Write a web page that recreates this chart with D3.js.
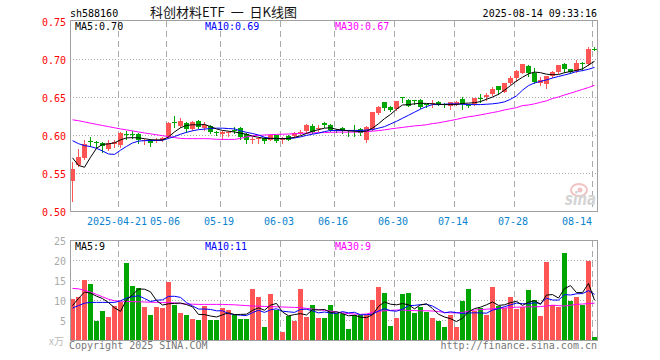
<!DOCTYPE html>
<html><head><meta charset="utf-8">
<script src="https://cdn.jsdelivr.net/npm/d3@7"></script>
<style>html,body{margin:0;padding:0;background:#fff;}svg{display:block;}</style>
</head><body>
<svg id="c" width="660" height="360"></svg>
<script>
// ---------------- DATA ----------------
const dates = ["04-09","04-10","04-11","04-14","04-15","04-16","04-17","04-18","04-21","04-22","04-23","04-24","04-25","04-28","04-29","04-30",
"05-06","05-07","05-08","05-09","05-12","05-13","05-14","05-15","05-16","05-19","05-20","05-21","05-22","05-23","05-26","05-27","05-28","05-29","05-30",
"06-03","06-04","06-05","06-06","06-09","06-10","06-11","06-12","06-13","06-16","06-17","06-18","06-19","06-20","06-23","06-24","06-25","06-26","06-27","06-30",
"07-01","07-02","07-03","07-04","07-07","07-08","07-09","07-10","07-11","07-14","07-15","07-16","07-17","07-18","07-21","07-22","07-23","07-24","07-25","07-28","07-29","07-30","07-31",
"08-01","08-04","08-05","08-06","08-07","08-08","08-11","08-12","08-13","08-14"];

const open = [0.540,0.560,0.570,0.592,0.591,0.590,0.581,0.588,0.587,0.601,
0.601,0.601,0.593,0.594,0.593,0.594,0.597,0.617,0.612,0.616,
0.608,0.619,0.609,0.612,0.6035,0.601,0.603,0.6065,0.609,0.601,
0.5945,0.595,0.596,0.594,0.5995,0.5945,0.5985,0.5985,0.6035,0.605,
0.612,0.609,0.616,0.613,0.6065,0.6095,0.6065,0.6065,0.608,0.593,
0.608,0.6292,0.643,0.6374,0.6344,0.650,0.6466,0.6455,0.646,0.6405,
0.6415,0.644,0.6407,0.6387,0.641,0.6474,0.6392,0.6404,0.6492,0.6505,
0.6535,0.6645,0.6567,0.6685,0.6754,0.682,0.6907,0.6815,0.669,0.6675,
0.677,0.6829,0.6937,0.6862,0.6842,0.6952,0.6928,0.7136];
const close = [0.555,0.571,0.588,0.5915,0.5905,0.586,0.590,0.591,0.602,0.6005,
0.6005,0.594,0.594,0.589,0.594,0.596,0.616,0.6165,0.619,0.608,
0.617,0.611,0.613,0.604,0.603,0.604,0.6035,0.606,0.598,0.594,
0.595,0.5955,0.592,0.5995,0.592,0.595,0.594,0.6025,0.604,0.613,
0.604,0.6095,0.613,0.606,0.606,0.6052,0.606,0.606,0.602,0.6104,
0.630,0.6374,0.6352,0.633,0.6444,0.6495,0.6387,0.645,0.6374,0.640,
0.642,0.641,0.6403,0.643,0.644,0.641,0.639,0.6488,0.649,0.6532,
0.660,0.6597,0.669,0.675,0.6836,0.6928,0.682,0.6692,0.6719,0.677,
0.6828,0.6915,0.6872,0.6828,0.6950,0.6948,0.7134,0.7134];
const high = [0.5645,0.581,0.594,0.598,0.592,0.591,0.593,0.594,0.604,0.605,
0.605,0.602,0.595,0.595,0.596,0.597,0.617,0.625,0.622,0.617,
0.619,0.620,0.617,0.613,0.605,0.605,0.605,0.610,0.611,0.602,
0.598,0.598,0.597,0.601,0.600,0.598,0.600,0.604,0.606,0.614,
0.614,0.613,0.617,0.614,0.608,0.610,0.607,0.6126,0.609,0.612,
0.630,0.638,0.644,0.638,0.645,0.6505,0.647,0.6462,0.647,0.641,
0.646,0.645,0.642,0.644,0.645,0.650,0.6405,0.649,0.654,0.655,
0.663,0.665,0.669,0.677,0.685,0.693,0.692,0.688,0.6762,0.678,
0.684,0.692,0.6945,0.687,0.699,0.6967,0.7156,0.7156];
const low = [0.513,0.559,0.569,0.586,0.584,0.577,0.580,0.584,0.584,0.595,
0.596,0.589,0.588,0.585,0.591,0.592,0.596,0.610,0.611,0.604,
0.606,0.609,0.606,0.602,0.600,0.595,0.599,0.602,0.595,0.590,
0.590,0.589,0.590,0.593,0.591,0.589,0.593,0.597,0.601,0.603,
0.602,0.605,0.611,0.605,0.604,0.603,0.5986,0.599,0.600,0.591,
0.606,0.628,0.633,0.632,0.633,0.643,0.638,0.6405,0.636,0.637,
0.6375,0.640,0.637,0.634,0.640,0.634,0.6375,0.640,0.6436,0.646,
0.653,0.6545,0.656,0.667,0.671,0.681,0.6776,0.669,0.6653,0.6623,
0.676,0.682,0.683,0.682,0.683,0.685,0.692,0.7122];
const volume = [10.25,10.75,15,14,4.8,7.25,5.75,8.5,9.5,19.25,
13.5,13,8.25,6.25,8.25,8,14.5,8.75,6.75,6.25,
5.25,5,8.5,5,5,8,7.5,6.25,5.25,5.25,
12.75,10.75,3.25,11.5,7.5,2,6,4.75,12.75,5.75,
8.75,5.5,5.5,8.75,6.75,6.5,2.75,6.25,6.25,6.25,
10,13.25,11.75,3.5,5.5,11.5,11.75,6.75,8.25,7,
5.5,4.75,3.25,6.25,3.25,9.75,12.75,7.25,8,6.25,
13.25,8.5,8,10.75,7.75,8.25,12.5,10,6,19.5,
8.75,8.25,21.75,9.75,10.75,8.75,19.75,0.75];

const ma5 = [0.570,0.560,0.5576,0.5707,0.5825,0.5877,0.5883,0.5897,0.5936,0.5962,
0.5965,0.5962,0.5952,0.5938,0.5936,0.5936,0.5975,0.604,0.6096,0.6126,
0.6135,0.6132,0.614,0.611,0.608,0.606,0.605,0.604,0.6025,0.601,
0.5985,0.597,0.5955,0.5955,0.5955,0.5952,0.5955,0.597,0.599,0.602,
0.605,0.607,0.609,0.6095,0.6075,0.6065,0.6055,0.605,0.6045,0.605,
0.609,0.6148,0.6215,0.627,0.634,0.6395,0.640,0.641,0.6418,0.6415,
0.641,0.6405,0.640,0.640,0.640,0.6415,0.642,0.6425,0.644,0.647,
0.650,0.6535,0.659,0.665,0.671,0.676,0.6805,0.6828,0.682,0.680,
0.6793,0.6795,0.682,0.6835,0.685,0.687,0.692,0.697];
const ma10 = [0.5925,0.5886,0.586,0.5848,0.5825,0.579,0.575,0.5745,0.580,0.585,
0.5895,0.592,0.5925,0.5928,0.5928,0.593,0.5955,0.598,0.601,0.6035,
0.6055,0.607,0.6078,0.6085,0.609,0.609,0.6085,0.608,0.6055,0.6035,
0.602,0.600,0.597,0.5955,0.5952,0.5952,0.5955,0.596,0.5975,0.5995,
0.601,0.6025,0.6045,0.606,0.606,0.606,0.606,0.606,0.606,0.6065,
0.607,0.609,0.611,0.6145,0.618,0.622,0.626,0.630,0.634,0.6375,
0.640,0.640,0.6405,0.641,0.641,0.6405,0.640,0.640,0.640,0.6405,
0.641,0.642,0.6436,0.647,0.6515,0.659,0.665,0.6685,0.6705,0.6725,
0.675,0.677,0.679,0.681,0.6835,0.6847,0.6865,0.689];
const ma30 = [0.620,0.6188,0.6172,0.6156,0.614,0.6125,0.611,0.6095,0.608,0.6067,
0.6054,0.604,0.6027,0.6015,0.6003,0.5991,0.598,0.5966,0.5955,0.5952,
0.5952,0.5952,0.5952,0.595,0.5944,0.5942,0.5942,0.5942,0.5955,0.5975,
0.599,0.5995,0.600,0.6004,0.6008,0.601,0.6013,0.6017,0.602,0.6025,
0.6028,0.603,0.6032,0.6035,0.6038,0.6038,0.6038,0.6038,0.604,0.6045,
0.605,0.6058,0.6068,0.608,0.609,0.610,0.611,0.612,0.6126,0.6135,
0.615,0.616,0.6175,0.619,0.6205,0.6225,0.624,0.625,0.6265,0.628,
0.6295,0.631,0.633,0.6345,0.636,0.6387,0.6395,0.641,0.643,0.645,
0.648,0.650,0.6527,0.655,0.6575,0.660,0.6625,0.6655];

const volMa5 = [8.6,10.4,12.0,11.7,10.96,10.36,9.36,8.06,7.16,10.05,
11.3,12.75,12.7,12.05,9.85,8.75,9.05,9.15,9.25,8.85,
8.3,6.4,6.35,6.0,5.75,6.3,6.8,6.35,6.4,6.45,
7.4,8.05,7.45,8.7,9.15,7.0,6.05,6.35,6.6,6.25,
7.6,7.5,7.65,6.85,7.05,6.6,6.05,6.2,5.7,5.6,
6.3,8.4,9.5,8.95,8.8,9.1,8.8,7.8,8.75,9.05,
7.85,6.45,5.75,5.35,4.6,5.45,7.05,7.85,8.2,8.8,
9.5,8.65,8.8,9.35,9.65,8.65,9.45,9.85,8.9,11.25,
11.35,10.5,12.85,13.6,11.85,11.85,14.15,9.95];
const volMa10 = [8.0,8.6,9.2,9.4,9.4,9.4,9.4,9.4,9.8,10.5,
10.83,11.06,10.38,9.6,9.95,10.03,10.9,10.93,10.65,9.35,
8.53,7.73,7.75,7.63,7.3,7.3,6.6,6.35,6.2,6.1,
6.85,7.43,6.9,7.55,7.8,7.2,7.05,6.9,7.65,7.7,
7.3,6.78,7.0,6.73,6.65,7.1,6.78,6.93,6.28,6.33,
6.45,7.23,7.85,7.33,7.2,7.7,8.6,8.65,8.85,8.93,
8.48,7.63,6.78,7.05,6.83,6.65,6.75,6.8,6.78,6.7,
7.48,7.85,8.33,8.78,9.23,9.08,9.05,9.33,9.13,10.45,
10.0,9.98,11.35,11.25,11.55,11.6,12.33,11.4];
const volMa30 = [12.9,12.8,12.4,12.0,11.4,10.8,10.2,9.8,9.7,9.65,
9.6,9.55,9.5,9.45,9.4,9.35,9.33,9.3,9.1,9.0,
8.95,8.9,8.9,8.9,8.9,8.9,8.85,8.8,8.7,8.6,
8.5,8.45,8.4,8.35,8.3,8.25,8.2,8.15,8.1,7.9,
7.75,7.6,7.4,7.25,7.0,6.8,6.6,6.5,6.4,6.5,
6.9,7.2,7.3,7.4,7.5,7.5,7.4,7.35,7.3,7.3,
7.25,7.1,6.9,6.8,6.8,6.9,7.2,7.5,7.6,7.7,
7.8,7.9,8.0,8.1,8.2,8.25,8.3,8.3,8.35,8.5,
8.7,8.6,8.5,8.7,8.9,9.0,9.1,9.2];

const priceTicks = [0.50,0.55,0.60,0.65,0.70,0.75];
const volTicks = [5,10,15,20,25];
const tickDates = ["04-21","05-06","05-19","06-03","06-16","06-30","07-14","07-28","08-14"];
const tickLabels = ["2025-04-21","05-06","05-19","06-03","06-16","06-30","07-14","07-28","08-14"];

// ---------------- DRAW ----------------
const svg = d3.select('#c');
const MONO = '"DejaVu Sans Mono", "Liberation Mono", monospace';
const CJK = '"Noto Sans CJK SC", sans-serif';
const RED = '#ff5555', GREEN = '#00a600';
const GRID = '#aaaaaa', BORDER = '#a0a0a0';

svg.append('rect').attr('width',660).attr('height',360).attr('fill','#fff');

const x = d3.scaleBand().domain(dates).range([70,597]).paddingInner(1/6).paddingOuter(0).align(0);
const y = d3.scaleLinear().domain([0.50,0.75]).range([211,21]);
const yv = d3.scaleLinear().domain([0,25]).range([340,240]);
const L = 70, R = 597;

// grids
const g = svg.append('g').attr('shape-rendering','crispEdges');
g.selectAll('.hp').data(priceTicks.filter(t=>t>0.5 && t<0.75)).join('line')
  .attr('x1',L).attr('x2',R).attr('y1',d=>Math.round(y(d))+0.5).attr('y2',d=>Math.round(y(d))+0.5)
  .attr('stroke',GRID).attr('stroke-dasharray','1,2');
g.selectAll('.hv').data(volTicks.filter(t=>t<25)).join('line')
  .attr('x1',L).attr('x2',R).attr('y1',d=>Math.round(yv(d))+0.5).attr('y2',d=>Math.round(yv(d))+0.5)
  .attr('stroke',GRID).attr('stroke-dasharray','1,2');
tickDates.forEach(d=>{
  const xx = x(d)+0.5;
  g.append('line').attr('x1',xx).attr('x2',xx).attr('y1',21).attr('y2',211)
    .attr('stroke',GRID).attr('stroke-dasharray','6,4');
  g.append('line').attr('x1',xx).attr('x2',xx).attr('y1',241).attr('y2',340)
    .attr('stroke',GRID).attr('stroke-dasharray','6,4');
});

// watermark
const wm = svg.append('g');
wm.append('ellipse').attr('cx',579).attr('cy',190).attr('rx',8).attr('ry',6).attr('fill','none').attr('stroke','#f3c2c2').attr('stroke-width',2);
wm.append('circle').attr('cx',580).attr('cy',190).attr('r',2.5).attr('fill','#f3c2c2');
wm.append('text').attr('x',565).attr('y',205).attr('font-family','"DejaVu Sans", sans-serif')
  .attr('font-weight','bold').attr('font-style','italic').attr('font-size',17)
  .attr('textLength',31).attr('lengthAdjust','spacingAndGlyphs').attr('fill','#d4d4d4').text('sina');

// candles
const data = dates.map((d,i)=>({d,o:open[i],c:close[i],h:high[i],l:low[i],v:volume[i]}));
const colorOf = p => p.c >= p.o ? RED : GREEN;
const cg = svg.append('g').attr('shape-rendering','crispEdges');
cg.selectAll('.wick').data(data).join('rect')
  .attr('x',p=>x(p.d)+2).attr('width',1)
  .attr('y',p=>Math.round(y(p.h))).attr('height',p=>Math.max(1,Math.round(y(p.l))-Math.round(y(p.h))+1))
  .attr('fill',colorOf);
cg.selectAll('.body').data(data).join('rect')
  .attr('x',p=>x(p.d)).attr('width',x.bandwidth())
  .attr('y',p=>Math.round(y(Math.max(p.o,p.c))))
  .attr('height',p=>Math.max(1,Math.round(y(Math.min(p.o,p.c)))-Math.round(y(Math.max(p.o,p.c)))))
  .attr('fill',colorOf);

// price MA lines
const cx = (d,i)=>x(dates[i])+2.5;
const lineP = d3.line().x((d,i)=>cx(d,i)).y(d=>y(d));
[[ma30,'#ff00ff'],[ma10,'#0000ff'],[ma5,'#000000']].forEach(([arr,col])=>{
  svg.append('path').attr('d',lineP(arr)).attr('fill','none').attr('stroke',col).attr('stroke-width',1);
});

// volume bars
const vg = svg.append('g').attr('shape-rendering','crispEdges');
vg.selectAll('rect').data(data).join('rect')
  .attr('x',p=>x(p.d)).attr('width',x.bandwidth())
  .attr('y',p=>Math.round(yv(p.v))).attr('height',p=>340-Math.round(yv(p.v)))
  .attr('fill',colorOf);
const lineV = d3.line().x((d,i)=>cx(d,i)).y(d=>yv(d));
[[volMa30,'#ff00ff'],[volMa10,'#0000ff'],[volMa5,'#000000']].forEach(([arr,col])=>{
  svg.append('path').attr('d',lineV(arr)).attr('fill','none').attr('stroke',col).attr('stroke-width',1);
});

// borders
const bg = svg.append('g').attr('shape-rendering','crispEdges').attr('fill','none').attr('stroke',BORDER);
bg.append('rect').attr('x',L+0.5).attr('y',20.5).attr('width',R-L).attr('height',190.5);
bg.append('rect').attr('x',L+0.5).attr('y',240.5).attr('width',R-L).attr('height',99.5);

// axes
const ay = svg.append('g').attr('transform',`translate(${L},0)`)
  .call(d3.axisLeft(y).tickValues(priceTicks).tickSize(0).tickPadding(4).tickFormat(d3.format('.2f')));
ay.select('.domain').remove();
ay.selectAll('text').attr('font-family',MONO).attr('font-size',10).attr('fill','#ff0000').attr('dy','0.45em');

const av = svg.append('g').attr('transform',`translate(${L},0)`)
  .call(d3.axisLeft(yv).tickValues(volTicks).tickSize(0).tickPadding(4));
av.select('.domain').remove();
av.selectAll('text').attr('font-family',MONO).attr('font-size',10).attr('fill','#aaaaaa').attr('dy','0.45em');

svg.selectAll('.xl').data(tickDates).join('text')
  .attr('x',(d,i)=> i===tickDates.length-1 ? x(d) : x(d)-1)
  .attr('y',225)
  .attr('text-anchor',(d,i)=> i===tickDates.length-1 ? 'end' : 'middle')
  .attr('font-family',MONO).attr('font-size',10).attr('fill','#0a84d0')
  .text((d,i)=>tickLabels[i]);

// header & legends
const txt = (xx,yy,s,col,anchor,font,size)=>svg.append('text').attr('x',xx).attr('y',yy)
  .attr('font-family',font||MONO).attr('font-size',size||10).attr('fill',col)
  .attr('text-anchor',anchor||'start').text(s);
txt(70,17,'sh588160','#000');
svg.append('text').attr('x',150).attr('y',17).attr('font-family',CJK).attr('font-size',13).attr('fill','#111')
  .attr('xml:space','preserve').style('white-space','pre')
  .text('科创材料ETF  一  日K线图')
  .attr('textLength',147).attr('lengthAdjust','spacing');
txt(597,17,'2025-08-14 09:33:16','#000','end');
txt(75,29.5,'MA5:'+d3.format('.2f')(ma5[ma5.length-1]),'#000');
txt(205,29.5,'MA10:'+d3.format('.2f')(ma10[ma10.length-1]),'#0000ff');
txt(335,29.5,'MA30:'+d3.format('.2f')(ma30[ma30.length-1]),'#ff00ff');
txt(75,249.5,'MA5:9','#000');
txt(205,249.5,'MA10:11','#0000ff');
txt(335,249.5,'MA30:9','#ff00ff');
txt(64,345,'x万','#bbbbbb','end',CJK,10);
txt(69,349,'Copyright 2025 SINA.COM','#777777');
txt(597,349,'http://finance.sina.com.cn','#777777','end');
</script>
</body></html>
